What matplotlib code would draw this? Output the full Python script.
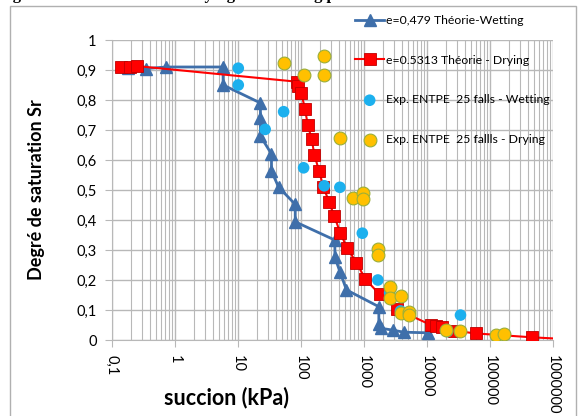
import numpy as np
import matplotlib
matplotlib.use("Agg")
import matplotlib.pyplot as plt
from matplotlib.patches import Rectangle
from matplotlib.ticker import FixedLocator, LogLocator, NullFormatter

plt.rcParams['font.family'] = ['Lato', 'DejaVu Sans']

# Theory - wetting (e=0,479)
x_wet_th = [0.18, 0.35, 0.73, 5.8, 5.8, 22.7, 22.7, 22.7, 34, 34, 44, 81, 81,
            345, 345, 414, 527, 1720, 1720, 1870, 2860, 4270, 10200]
y_wet_th = [0.906, 0.905, 0.91, 0.91, 0.85, 0.79, 0.74, 0.68, 0.62, 0.563, 0.51, 0.452, 0.394,
            0.333, 0.276, 0.228, 0.167, 0.111, 0.053, 0.039, 0.033, 0.026, 0.024]

# Theory - drying (e=0.5313)
x_dry_th = [0.137, 0.19, 0.25, 86, 91, 101, 116, 128, 148, 163, 194, 226, 278, 337, 419,
            535, 757, 1050, 1770, 3300, 11500, 13800, 17500, 27000, 59000, 460000, 2000000]
y_dry_th = [0.911, 0.911, 0.913, 0.861, 0.847, 0.824, 0.769, 0.717, 0.669, 0.617, 0.563,
            0.511, 0.461, 0.413, 0.358, 0.308, 0.258, 0.203, 0.152, 0.103, 0.05, 0.048,
            0.042, 0.031, 0.022, 0.009, 0.002]

# Experimental - wetting
x_wet_exp = [10.1, 10.1, 53, 27, 110, 234, 414, 940, 1660, 2550, 3800, 34000, 21000, 34000, 162000]
y_wet_exp = [0.906, 0.85, 0.761, 0.702, 0.574, 0.514, 0.509, 0.356, 0.2, 0.157, 0.097,
             0.083, 0.028, 0.028, 0.014]

# Experimental - drying
x_dry_exp = [53, 110, 234, 234, 410, 670, 960, 960, 1660, 1660, 2630, 2630, 3900, 3800,
             5100, 5100, 20000, 34000, 126000, 167000]
y_dry_exp = [0.922, 0.883, 0.947, 0.883, 0.673, 0.472, 0.489, 0.469, 0.302, 0.283, 0.178,
             0.139, 0.148, 0.091, 0.094, 0.083, 0.033, 0.031, 0.017, 0.02]

xticks = [0.1, 1, 10, 100, 1000, 10000, 100000, 1000000]
xtick_labels = ['0,1', '1', '10', '100', '1000', '10000', '100000', '1000000']
yticks = np.arange(0, 11) / 10
ytick_labels = ['0', '0,1', '0,2', '0,3', '0,4', '0,5', '0,6', '0,7', '0,8', '0,9', '1']

fig = plt.figure(figsize=(5.78, 4.16), dpi=100)
ax = fig.add_axes([112/578, 1 - 340/416, 441/578, 300/416])

grid_c = '#B8B8B8'
ax.plot(x_wet_th, y_wet_th, color='#3F6FAA', lw=2, marker='^', ms=8.5,
        mec='#3F6FAA', label='e=0,479 Théorie-Wetting', zorder=3)
ax.plot(x_dry_th, y_dry_th, color='#FF0000', lw=1.5, marker='s', ms=8,
        mfc='#FF0000', mec='#C00000', mew=0.6, markevery=list(range(len(x_dry_th) - 1)),
        label='e=0.5313 Théorie - Drying', zorder=4)
ax.scatter(x_wet_exp, y_wet_exp, s=70, color='#1CB0EE', edgecolors='none',
           label='Exp. ENTPE  25 falls - Wetting', zorder=5)
ax.scatter(x_dry_exp, y_dry_exp, s=85, color='#FFC000', edgecolors='#9AAF3A', linewidths=0.8,
           label='Exp. ENTPE  25 fallls - Drying', zorder=6)

ax.set_xscale('log')
ax.set_xlim(0.1, 1000000)
ax.set_ylim(0, 1)
ax.xaxis.set_major_locator(FixedLocator(xticks))
ax.set_xticklabels(xtick_labels, rotation=-90, fontsize=10.5)
ax.xaxis.set_minor_locator(LogLocator(base=10, subs=np.arange(2, 10), numticks=100))
ax.xaxis.set_minor_formatter(NullFormatter())
ax.set_yticks(yticks)
ax.set_yticklabels(ytick_labels, fontsize=10.5)

ax.grid(which='major', color=grid_c, lw=1)
ax.grid(which='minor', axis='x', color=grid_c, lw=0.8)
ax.tick_params(axis='x', which='major', length=5, color=grid_c, pad=6)
ax.tick_params(axis='x', which='minor', length=0)
ax.tick_params(axis='y', length=5, color=grid_c, pad=6)
for s in ax.spines.values():
    s.set_visible(False)
ax.spines['left'].set_visible(True)
ax.spines['bottom'].set_visible(True)
ax.spines['left'].set_color(grid_c)
ax.spines['bottom'].set_color(grid_c)
ax.set_axisbelow(True)

fig.text(226/578, 1 - 398/416, 'succion (kPa)', fontsize=15.5, fontweight='bold',
         ha='center', va='center')
fig.text(37/578, 1 - 190/416, 'Degré de saturation Sr', fontsize=13, fontweight='bold',
         rotation=90, ha='center', va='center')

leg = ax.legend(loc='upper left', bbox_to_anchor=(355/578, 1 - 15/416),
                bbox_transform=fig.transFigure, frameon=False, fontsize=8.8,
                labelspacing=2.35, handlelength=2.4, handletextpad=0.1,
                borderaxespad=0, borderpad=0)

fig.patches.append(Rectangle((10/578, -0.05), 566/578, 1 - 6/416 + 0.05,
                             transform=fig.transFigure, fill=False,
                             edgecolor='#B0B0B0', lw=1))
fig.text(-0.003, 1 + 1/416, 'Fig. 6. Retention curve for drying and wetting path',
         family='Liberation Serif', fontweight='bold', fontsize=12, va='baseline', ha='left')

fig.savefig('out.png', dpi=100)
